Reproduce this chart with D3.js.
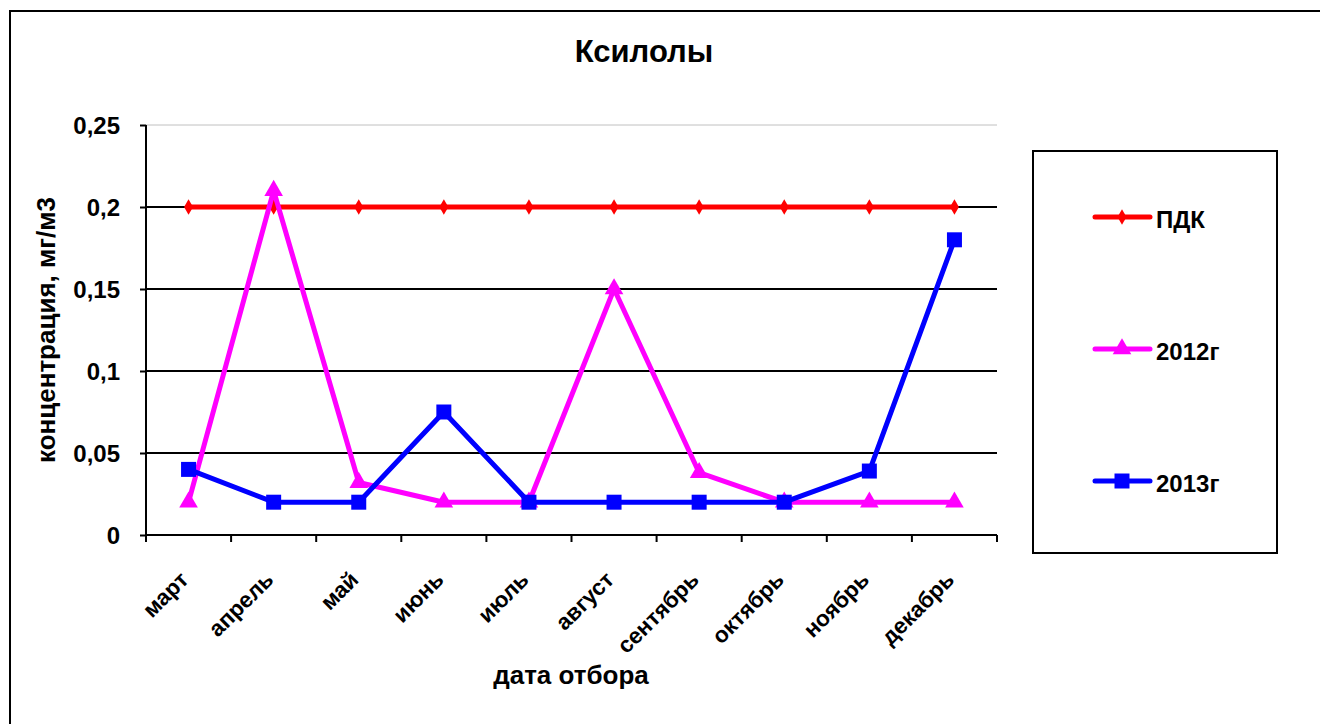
<!DOCTYPE html>
<html>
<head>
<meta charset="utf-8">
<script src="https://cdn.jsdelivr.net/npm/d3@7"></script>
<style>
    body { margin: 0; background: #fff; }
    svg { display: block; font-family: "Liberation Sans", Arial, sans-serif; }
</style>
</head>
<body>
<svg id="chart"></svg>
<script>
// data
var months = ["март", "апрель", "май", "июнь", "июль", "август", "сентябрь", "октябрь", "ноябрь", "декабрь"];
var pdk = [0.2, 0.2, 0.2, 0.2, 0.2, 0.2, 0.2, 0.2, 0.2, 0.2];
var y2012 = [0.02, 0.21, 0.032, 0.02, 0.02, 0.15, 0.038, 0.02, 0.02, 0.02];
var y2013 = [0.04, 0.02, 0.02, 0.075, 0.02, 0.02, 0.02, 0.02, 0.039, 0.18];
var yTicks = [0, 0.05, 0.1, 0.15, 0.2, 0.25];
var seriesNames = ["ПДК", "2012г", "2013г"];

var width = 1320,
    height = 724;

var svg = d3.select('#chart')
    .attr('width', width)
    .attr('height', height);

// outer frame
svg.append('rect')
    .attr('x', 10)
    .attr('y', 11)
    .attr('width', 1340)
    .attr('height', 740)
    .attr('fill', '#fff')
    .attr('stroke', '#000')
    .attr('stroke-width', 2);

var plot = { left: 146, right: 997, top: 125, bottom: 535 };

var x = d3.scaleBand()
    .domain(months)
    .range([plot.left, plot.right]);

var y = d3.scaleLinear()
    .domain([0, 0.25])
    .range([plot.bottom, plot.top]);

var fmt = function (d) { return d3.format('')(d).replace('.', ','); };

// gridlines
svg.append('g')
    .selectAll('line')
    .data(yTicks.filter(function (d) { return d > 0; }))
    .enter().append('line')
    .attr('x1', plot.left)
    .attr('x2', plot.right)
    .attr('y1', function (d) { return y(d); })
    .attr('y2', function (d) { return y(d); })
    .attr('stroke', function (d) { return d === 0.25 ? '#c0c0c0' : '#000'; })
    .attr('stroke-width', function (d) { return d === 0.25 ? 1 : 2; });

// y axis
var yAxis = svg.append('g')
    .attr('transform', 'translate(' + plot.left + ',0)')
    .call(d3.axisLeft(y).tickValues(yTicks).tickFormat(fmt).tickSize(6).tickPadding(20));
yAxis.select('.domain').attr('stroke-width', 2).attr('d', 'M0,' + plot.top + 'V' + plot.bottom);
yAxis.selectAll('.tick line').attr('stroke-width', 2);
yAxis.selectAll('text')
    .attr('font-size', 24)
    .attr('font-weight', 'bold')
    .attr('fill', '#000')
    .attr('dy', '0.34em')
    .attr('font-family', '"Liberation Sans", Arial, sans-serif');

// x axis
var xAxis = svg.append('g')
    .attr('transform', 'translate(0,' + plot.bottom + ')')
    .call(d3.axisBottom(x).tickSize(0).tickFormat(''));
xAxis.select('.domain').attr('stroke-width', 2).attr('d', 'M' + plot.left + ',0H' + plot.right);

// x ticks on category boundaries
var bounds = months.map(function (m) { return x(m); }).concat([plot.right]);
svg.append('g')
    .selectAll('line')
    .data(bounds)
    .enter().append('line')
    .attr('x1', function (d) { return d; })
    .attr('x2', function (d) { return d; })
    .attr('y1', plot.bottom)
    .attr('y2', plot.bottom + 7)
    .attr('stroke', '#000')
    .attr('stroke-width', 2);

// x labels, rotated
svg.append('g')
    .selectAll('text')
    .data(months)
    .enter().append('text')
    .attr('transform', function (d) {
        var cx = x(d) + x.bandwidth() / 2 - 10;
        return 'translate(' + cx + ',' + (plot.bottom + 35) + ')rotate(-45)';
    })
    .attr('text-anchor', 'end')
    .attr('dy', '0.7em')
    .attr('font-size', 22.5)
    .attr('font-weight', 'bold')
    .text(function (d) { return d; });

// titles
svg.append('text')
    .attr('x', 644)
    .attr('y', 62)
    .attr('text-anchor', 'middle')
    .attr('font-size', 31)
    .attr('font-weight', 'bold')
    .text('Ксилолы');

svg.append('text')
    .attr('x', 571)
    .attr('y', 684)
    .attr('text-anchor', 'middle')
    .attr('font-size', 26)
    .attr('font-weight', 'bold')
    .text('дата отбора');

svg.append('text')
    .attr('transform', 'translate(55,330)rotate(-90)')
    .attr('text-anchor', 'middle')
    .attr('font-size', 26)
    .attr('font-weight', 'bold')
    .text('концентрация, мг/м3');

// series
var series = [
    { name: seriesNames[0], values: pdk, color: '#ff0000', symbol: d3.symbolDiamond, size: 70 },
    { name: seriesNames[1], values: y2012, color: '#ff00ff', symbol: d3.symbolTriangle, size: 150 },
    { name: seriesNames[2], values: y2013, color: '#0000ff', symbol: d3.symbolSquare, size: 225 }
];

var line = d3.line()
    .x(function (d, i) { return x(months[i]) + x.bandwidth() / 2; })
    .y(function (d) { return y(d); });

series.forEach(function (s) {
    var g = svg.append('g');
    g.append('path')
        .datum(s.values)
        .attr('d', line)
        .attr('fill', 'none')
        .attr('stroke', s.color)
        .attr('stroke-width', 5)
        .attr('stroke-linejoin', 'round');
    g.selectAll('path.mark')
        .data(s.values)
        .enter().append('path')
        .attr('class', 'mark')
        .attr('transform', function (d, i) {
            return 'translate(' + (x(months[i]) + x.bandwidth() / 2) + ',' + y(d) + ')';
        })
        .attr('d', d3.symbol().type(s.symbol).size(s.size))
        .attr('fill', s.color);
});

// legend
var legend = svg.append('g');
legend.append('rect')
    .attr('x', 1033)
    .attr('y', 151)
    .attr('width', 244)
    .attr('height', 402)
    .attr('fill', '#fff')
    .attr('stroke', '#000')
    .attr('stroke-width', 2);

var legendY = [217, 349, 481];
series.forEach(function (s, i) {
    var ly = legendY[i];
    legend.append('line')
        .attr('x1', 1095)
        .attr('x2', 1150)
        .attr('y1', ly)
        .attr('y2', ly)
        .attr('stroke', s.color)
        .attr('stroke-width', 5)
        .attr('stroke-linecap', 'round');
    legend.append('path')
        .attr('transform', 'translate(1122,' + ly + ')')
        .attr('d', d3.symbol().type(s.symbol).size(s.size))
        .attr('fill', s.color);
    legend.append('text')
        .attr('x', 1156)
        .attr('y', ly + 11)
        .attr('font-size', 24)
        .attr('font-weight', 'bold')
        .text(s.name);
});
</script>
</body>
</html>
